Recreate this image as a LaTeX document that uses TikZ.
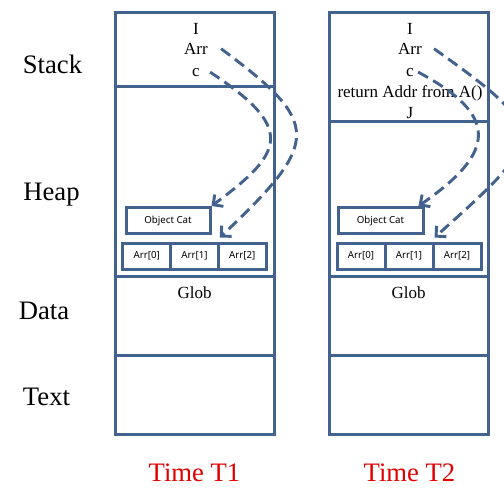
\documentclass[tikz,border=0pt]{standalone}
\usepackage{fontspec}
\setmainfont{Liberation Serif}
\newfontfamily\lblfont{Noto Sans}
\usetikzlibrary{arrows.meta,calc}
\definecolor{frame}{RGB}{68,98,142}
\definecolor{timered}{RGB}{224,0,0}
\begin{document}
\begin{tikzpicture}[x=0.75pt,y=-0.75pt,
  seg/.style={draw=frame, line width=2.25pt, inner sep=0pt, minimum width=119.25pt},
  cell/.style={draw=frame, line width=2.25pt, inner sep=0pt, font=\lblfont\fontsize{7.3}{8}\selectfont, minimum height=19.5pt},
  stk/.style={font=\fontsize{12.75}{14}\selectfont, inner sep=0pt, anchor=base},
  side/.style={font=\fontsize{20}{24}\selectfont, inner sep=0pt, anchor=base},
  timelbl/.style={side, text=timered},
  ptr/.style={draw=frame, line width=2.2pt, dash pattern=on 8.5pt off 4.5pt, -{Straight Barb[length=5.5pt,width=11pt]}}
]
\useasboundingbox (0,0) rectangle (504,496);

% side labels
\node[side] (lstack) at (52.5,73) {Stack};
\node[side] (lheap) at (51.5,200) {Heap};
\node[side] (ldata) at (44,319) {Data};
\node[side] (ltext) at (46.5,405) {Text};
\node[timelbl] (t1) at (194.5,481) {Time T1};
\node[timelbl] (t2) at (409.5,481) {Time T2};

% column 1
\node[seg, minimum height=55.5pt] (stack1) at (194.5,49) {};
\node[seg, minimum height=142.5pt] (heap1) at (194.5,181) {};
\node[seg, minimum height=59.25pt] (data1) at (194.5,315.5) {};
\node[seg, minimum height=59.25pt] (text1) at (194.5,394.5) {};

% column 2
\node[seg, minimum height=81.75pt] (stack2) at (408.5,66.5) {};
\node[seg, minimum height=116.25pt] (heap2) at (408.5,198.5) {};
\node[seg, minimum height=59.25pt] (data2) at (408.5,315.5) {};
\node[seg, minimum height=59.25pt] (text2) at (408.5,394.5) {};

% stack texts column 1
\node[stk] (i1) at (196,34) {I};
\node[stk] (arrA1) at (196,55) {Arr};
\node[stk] (c1) at (196,76) {c};

% stack texts column 2
\node[stk] (i2) at (410,34) {I};
\node[stk] (arrA2) at (410,55) {Arr};
\node[stk] (c2) at (410,76) {c};
\node[stk] (ret2) at (410,97) {return Addr from A()};
\node[stk] (j2) at (410,118) {J};

% glob
\node[stk] (glob1) at (194.5,298) {Glob};
\node[stk] (glob2) at (408.5,298) {Glob};

% heap objects column 1
\node[cell, minimum width=63pt] (oc1) at (168,220.5) {Object Cat};
\node[cell, minimum width=35.75pt] (a01) at (146.8,256) {Arr[0]};
\node[cell, minimum width=35.75pt] (a11) at (194.5,256) {Arr[1]};
\node[cell, minimum width=35.75pt] (a21) at (242.2,256) {Arr[2]};

% heap objects column 2
\node[cell, minimum width=63.75pt] (oc2) at (380.5,220.5) {Object Cat};
\node[cell, minimum width=36pt] (a02) at (361,256) {Arr[0]};
\node[cell, minimum width=36pt] (a12) at (409,256) {Arr[1]};
\node[cell, minimum width=36pt] (a22) at (457,256) {Arr[2]};

% pointers column 1
\draw[ptr] ([xshift=9.75pt,yshift=0.5pt]arrA1.east) .. controls (321,123) and (322,141) .. ([yshift=3pt]a11.north east);
\draw[ptr] ([xshift=7.5pt]c1.east) .. controls (295,128) and (285,152) .. (oc1.north east);

% pointers column 2
\draw[ptr] ([xshift=9pt,yshift=0.5pt]arrA2.east) .. controls (551,132) and (547,137) .. ([yshift=3pt]a12.north east);
\draw[ptr] ([xshift=3pt]c2.east) .. controls (499,115) and (497,152) .. ([xshift=-4.5pt]oc2.north east);
\end{tikzpicture}
\end{document}
